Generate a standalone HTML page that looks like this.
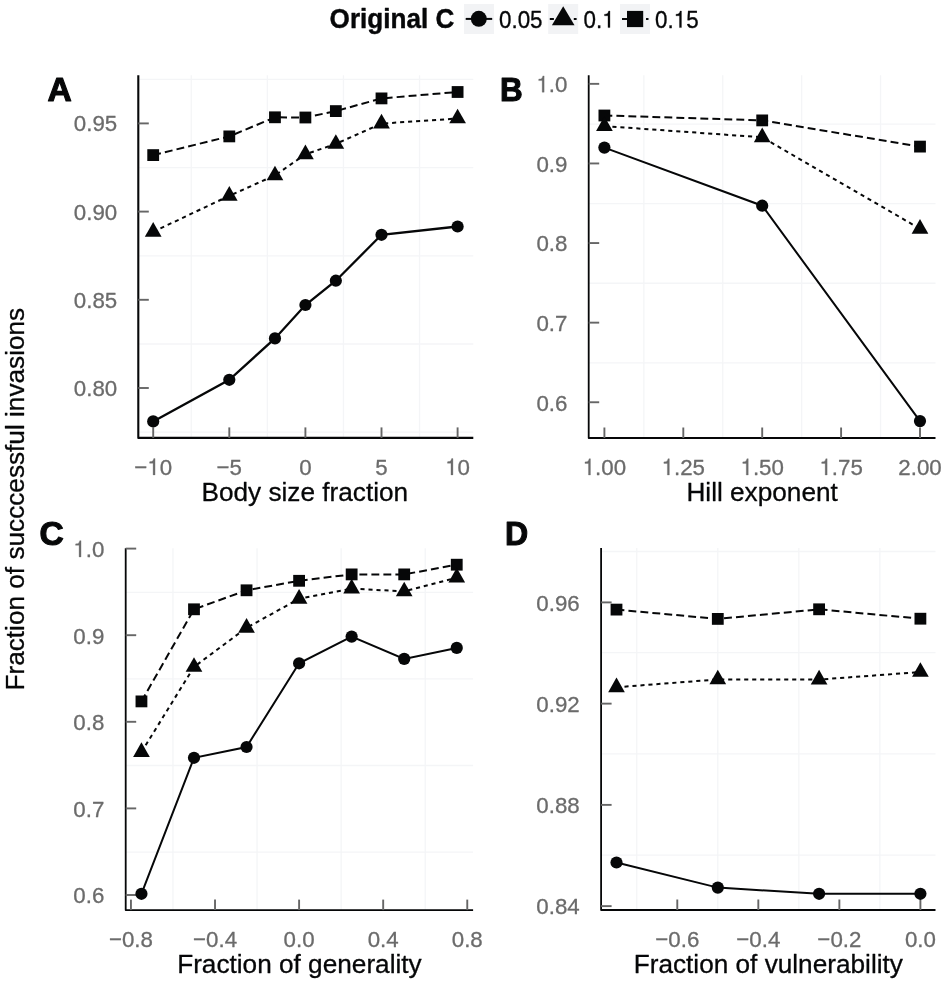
<!DOCTYPE html>
<html><head><meta charset="utf-8"><title>Figure</title>
<style>
html,body{margin:0;padding:0;background:#fff;}
body{width:945px;height:983px;overflow:hidden;font-family:"Liberation Sans", sans-serif;}
#wrap{width:945px;height:983px;will-change:transform;}
svg{display:block;font-family:"Liberation Sans", sans-serif;}
</style></head><body>
<div id="wrap">
<svg width="945" height="983" viewBox="0 0 945 983">
<g id="panel-A">
<line x1="138.3" x2="473.3" y1="79.40" y2="79.40" stroke="#f4f5f7" stroke-width="1.3"/>
<line x1="138.3" x2="473.3" y1="167.60" y2="167.60" stroke="#f4f5f7" stroke-width="1.3"/>
<line x1="138.3" x2="473.3" y1="255.80" y2="255.80" stroke="#f4f5f7" stroke-width="1.3"/>
<line x1="138.3" x2="473.3" y1="344.00" y2="344.00" stroke="#f4f5f7" stroke-width="1.3"/>
<line x1="138.3" x2="473.3" y1="432.20" y2="432.20" stroke="#f4f5f7" stroke-width="1.3"/>
<line x1="191.25" x2="191.25" y1="75.3" y2="437.9" stroke="#f4f5f7" stroke-width="1.3"/>
<line x1="267.35" x2="267.35" y1="75.3" y2="437.9" stroke="#f4f5f7" stroke-width="1.3"/>
<line x1="343.45" x2="343.45" y1="75.3" y2="437.9" stroke="#f4f5f7" stroke-width="1.3"/>
<line x1="419.55" x2="419.55" y1="75.3" y2="437.9" stroke="#f4f5f7" stroke-width="1.3"/>
<polyline points="138.3,75.3 138.3,437.9 473.3,437.9" fill="none" stroke="#060708" stroke-width="2.1" stroke-linejoin="round"/>
<line x1="138.3" x2="148.8" y1="123.40" y2="123.40" stroke="#666666" stroke-width="1.9"/>
<text transform="translate(117.20,131.30) scale(1.0,1.03)" text-anchor="end" font-size="22.3" fill="#6b6b6b" stroke="#6b6b6b" stroke-width="0.3" stroke-linejoin="round">0.95</text>
<line x1="138.3" x2="148.8" y1="211.60" y2="211.60" stroke="#666666" stroke-width="1.9"/>
<text transform="translate(117.20,219.50) scale(1.0,1.03)" text-anchor="end" font-size="22.3" fill="#6b6b6b" stroke="#6b6b6b" stroke-width="0.3" stroke-linejoin="round">0.90</text>
<line x1="138.3" x2="148.8" y1="299.80" y2="299.80" stroke="#666666" stroke-width="1.9"/>
<text transform="translate(117.20,307.70) scale(1.0,1.03)" text-anchor="end" font-size="22.3" fill="#6b6b6b" stroke="#6b6b6b" stroke-width="0.3" stroke-linejoin="round">0.85</text>
<line x1="138.3" x2="148.8" y1="388.00" y2="388.00" stroke="#666666" stroke-width="1.9"/>
<text transform="translate(117.20,395.90) scale(1.0,1.03)" text-anchor="end" font-size="22.3" fill="#6b6b6b" stroke="#6b6b6b" stroke-width="0.3" stroke-linejoin="round">0.80</text>
<line x1="153.20" x2="153.20" y1="437.9" y2="427.4" stroke="#666666" stroke-width="1.9"/>
<g transform="translate(153.20,474.90) scale(1.0,1.03)" fill="#6b6b6b" stroke="#6b6b6b" stroke-width="0.3" stroke-linejoin="round">
<text x="-18.91 6.51" y="0" font-size="22.3">−0</text>
<path transform="translate(-5.89,0) scale(0.02230,-0.02230)" d="M259,505 L259,0 L347,0 L347,709 L289,709 C258,600 238,585 102,568 L102,505 Z" vector-effect="non-scaling-stroke"/>
</g>
<line x1="229.30" x2="229.30" y1="437.9" y2="427.4" stroke="#666666" stroke-width="1.9"/>
<text transform="translate(229.30,474.90) scale(1.0,1.03)" text-anchor="middle" font-size="22.3" fill="#6b6b6b" stroke="#6b6b6b" stroke-width="0.3" stroke-linejoin="round">−5</text>
<line x1="305.40" x2="305.40" y1="437.9" y2="427.4" stroke="#666666" stroke-width="1.9"/>
<text transform="translate(305.40,474.90) scale(1.0,1.03)" text-anchor="middle" font-size="22.3" fill="#6b6b6b" stroke="#6b6b6b" stroke-width="0.3" stroke-linejoin="round">0</text>
<line x1="381.50" x2="381.50" y1="437.9" y2="427.4" stroke="#666666" stroke-width="1.9"/>
<text transform="translate(381.50,474.90) scale(1.0,1.03)" text-anchor="middle" font-size="22.3" fill="#6b6b6b" stroke="#6b6b6b" stroke-width="0.3" stroke-linejoin="round">5</text>
<line x1="457.60" x2="457.60" y1="437.9" y2="427.4" stroke="#666666" stroke-width="1.9"/>
<g transform="translate(457.60,474.90) scale(1.0,1.03)" fill="#6b6b6b" stroke="#6b6b6b" stroke-width="0.3" stroke-linejoin="round">
<text x="0.00" y="0" font-size="22.3">0</text>
<path transform="translate(-12.40,0) scale(0.02230,-0.02230)" d="M259,505 L259,0 L347,0 L347,709 L289,709 C258,600 238,585 102,568 L102,505 Z" vector-effect="non-scaling-stroke"/>
</g>
<text transform="translate(304.80,500.85)" text-anchor="middle" font-size="26.2" fill="#060708" stroke="#060708" stroke-width="0.3" stroke-linejoin="round">Body size fraction</text>
<text transform="translate(47.60,101.10) scale(0.9999999999999999,1.0)" font-size="33.6" font-weight="bold" fill="#060708" stroke="#060708" stroke-width="1.1" stroke-linejoin="round">A</text>
<polyline points="153.20,421.40 229.30,379.80 274.96,338.40 305.40,305.00 335.84,280.70 381.50,234.80 457.60,226.50" fill="none" stroke="#060708" stroke-width="2.3"/>
<polyline points="153.20,231.80 229.30,195.80 274.96,175.40 305.40,154.30 335.84,143.90 381.50,123.60 457.60,118.50" fill="none" stroke="#060708" stroke-width="2.0" stroke-dasharray="4.1 3.9"/>
<polyline points="153.20,155.10 229.30,136.40 274.96,117.30 305.40,117.50 335.84,111.10 381.50,98.40 457.60,92.00" fill="none" stroke="#060708" stroke-width="2.0" stroke-dasharray="7.9 4.1"/>
<circle cx="153.20" cy="421.40" r="6.10" fill="#060708"/>
<circle cx="229.30" cy="379.80" r="6.10" fill="#060708"/>
<circle cx="274.96" cy="338.40" r="6.10" fill="#060708"/>
<circle cx="305.40" cy="305.00" r="6.10" fill="#060708"/>
<circle cx="335.84" cy="280.70" r="6.10" fill="#060708"/>
<circle cx="381.50" cy="234.80" r="6.10" fill="#060708"/>
<circle cx="457.60" cy="226.50" r="6.10" fill="#060708"/>
<rect x="147.30" y="149.20" width="11.8" height="11.8" fill="#060708"/>
<rect x="223.40" y="130.50" width="11.8" height="11.8" fill="#060708"/>
<rect x="269.06" y="111.40" width="11.8" height="11.8" fill="#060708"/>
<rect x="299.50" y="111.60" width="11.8" height="11.8" fill="#060708"/>
<rect x="329.94" y="105.20" width="11.8" height="11.8" fill="#060708"/>
<rect x="375.60" y="92.50" width="11.8" height="11.8" fill="#060708"/>
<rect x="451.70" y="86.10" width="11.8" height="11.8" fill="#060708"/>
<polygon points="153.20,222.07 144.85,236.67 161.55,236.67" fill="#060708"/>
<polygon points="229.30,186.07 220.95,200.67 237.65,200.67" fill="#060708"/>
<polygon points="274.96,165.67 266.61,180.27 283.31,180.27" fill="#060708"/>
<polygon points="305.40,144.57 297.05,159.17 313.75,159.17" fill="#060708"/>
<polygon points="335.84,134.17 327.49,148.77 344.19,148.77" fill="#060708"/>
<polygon points="381.50,113.87 373.15,128.47 389.85,128.47" fill="#060708"/>
<polygon points="457.60,108.77 449.25,123.37 465.95,123.37" fill="#060708"/>
</g>
<g id="panel-B">
<line x1="588.7" x2="935.5" y1="124.05" y2="124.05" stroke="#f4f5f7" stroke-width="1.3"/>
<line x1="588.7" x2="935.5" y1="203.65" y2="203.65" stroke="#f4f5f7" stroke-width="1.3"/>
<line x1="588.7" x2="935.5" y1="283.25" y2="283.25" stroke="#f4f5f7" stroke-width="1.3"/>
<line x1="588.7" x2="935.5" y1="362.85" y2="362.85" stroke="#f4f5f7" stroke-width="1.3"/>
<line x1="643.85" x2="643.85" y1="75.3" y2="438.0" stroke="#f4f5f7" stroke-width="1.3"/>
<line x1="722.75" x2="722.75" y1="75.3" y2="438.0" stroke="#f4f5f7" stroke-width="1.3"/>
<line x1="801.65" x2="801.65" y1="75.3" y2="438.0" stroke="#f4f5f7" stroke-width="1.3"/>
<line x1="880.55" x2="880.55" y1="75.3" y2="438.0" stroke="#f4f5f7" stroke-width="1.3"/>
<polyline points="588.7,75.3 588.7,438.0 935.5,438.0" fill="none" stroke="#060708" stroke-width="1.8" stroke-linejoin="round"/>
<line x1="588.7" x2="599.2" y1="83.85" y2="83.85" stroke="#666666" stroke-width="1.9"/>
<g transform="translate(567.40,92.20) scale(1.0,1.03)" fill="#6b6b6b" stroke="#6b6b6b" stroke-width="0.3" stroke-linejoin="round">
<text x="-18.60 -12.40" y="0" font-size="22.3">.0</text>
<path transform="translate(-31.00,0) scale(0.02230,-0.02230)" d="M259,505 L259,0 L347,0 L347,709 L289,709 C258,600 238,585 102,568 L102,505 Z" vector-effect="non-scaling-stroke"/>
</g>
<line x1="588.7" x2="599.2" y1="163.45" y2="163.45" stroke="#666666" stroke-width="1.9"/>
<text transform="translate(567.40,171.80) scale(1.0,1.03)" text-anchor="end" font-size="22.3" fill="#6b6b6b" stroke="#6b6b6b" stroke-width="0.3" stroke-linejoin="round">0.9</text>
<line x1="588.7" x2="599.2" y1="243.05" y2="243.05" stroke="#666666" stroke-width="1.9"/>
<text transform="translate(567.40,251.40) scale(1.0,1.03)" text-anchor="end" font-size="22.3" fill="#6b6b6b" stroke="#6b6b6b" stroke-width="0.3" stroke-linejoin="round">0.8</text>
<line x1="588.7" x2="599.2" y1="322.65" y2="322.65" stroke="#666666" stroke-width="1.9"/>
<text transform="translate(567.40,331.00) scale(1.0,1.03)" text-anchor="end" font-size="22.3" fill="#6b6b6b" stroke="#6b6b6b" stroke-width="0.3" stroke-linejoin="round">0.7</text>
<line x1="588.7" x2="599.2" y1="402.25" y2="402.25" stroke="#666666" stroke-width="1.9"/>
<text transform="translate(567.40,410.60) scale(1.0,1.03)" text-anchor="end" font-size="22.3" fill="#6b6b6b" stroke="#6b6b6b" stroke-width="0.3" stroke-linejoin="round">0.6</text>
<line x1="604.40" x2="604.40" y1="438.0" y2="427.5" stroke="#666666" stroke-width="1.9"/>
<g transform="translate(604.40,475.00) scale(1.0,1.03)" fill="#6b6b6b" stroke="#6b6b6b" stroke-width="0.3" stroke-linejoin="round">
<text x="-9.30 -3.10 9.30" y="0" font-size="22.3">.00</text>
<path transform="translate(-21.70,0) scale(0.02230,-0.02230)" d="M259,505 L259,0 L347,0 L347,709 L289,709 C258,600 238,585 102,568 L102,505 Z" vector-effect="non-scaling-stroke"/>
</g>
<line x1="683.30" x2="683.30" y1="438.0" y2="427.5" stroke="#666666" stroke-width="1.9"/>
<g transform="translate(683.30,475.00) scale(1.0,1.03)" fill="#6b6b6b" stroke="#6b6b6b" stroke-width="0.3" stroke-linejoin="round">
<text x="-9.30 -3.10 9.30" y="0" font-size="22.3">.25</text>
<path transform="translate(-21.70,0) scale(0.02230,-0.02230)" d="M259,505 L259,0 L347,0 L347,709 L289,709 C258,600 238,585 102,568 L102,505 Z" vector-effect="non-scaling-stroke"/>
</g>
<line x1="762.20" x2="762.20" y1="438.0" y2="427.5" stroke="#666666" stroke-width="1.9"/>
<g transform="translate(762.20,475.00) scale(1.0,1.03)" fill="#6b6b6b" stroke="#6b6b6b" stroke-width="0.3" stroke-linejoin="round">
<text x="-9.30 -3.10 9.30" y="0" font-size="22.3">.50</text>
<path transform="translate(-21.70,0) scale(0.02230,-0.02230)" d="M259,505 L259,0 L347,0 L347,709 L289,709 C258,600 238,585 102,568 L102,505 Z" vector-effect="non-scaling-stroke"/>
</g>
<line x1="841.10" x2="841.10" y1="438.0" y2="427.5" stroke="#666666" stroke-width="1.9"/>
<g transform="translate(841.10,475.00) scale(1.0,1.03)" fill="#6b6b6b" stroke="#6b6b6b" stroke-width="0.3" stroke-linejoin="round">
<text x="-9.30 -3.10 9.30" y="0" font-size="22.3">.75</text>
<path transform="translate(-21.70,0) scale(0.02230,-0.02230)" d="M259,505 L259,0 L347,0 L347,709 L289,709 C258,600 238,585 102,568 L102,505 Z" vector-effect="non-scaling-stroke"/>
</g>
<line x1="920.00" x2="920.00" y1="438.0" y2="427.5" stroke="#666666" stroke-width="1.9"/>
<text transform="translate(920.00,475.00) scale(1.0,1.03)" text-anchor="middle" font-size="22.3" fill="#6b6b6b" stroke="#6b6b6b" stroke-width="0.3" stroke-linejoin="round">2.00</text>
<text transform="translate(762.10,500.95)" text-anchor="middle" font-size="26.2" fill="#060708" stroke="#060708" stroke-width="0.3" stroke-linejoin="round">Hill exponent</text>
<text transform="translate(499.90,101.40) scale(0.9349999999999999,1.0)" font-size="33.6" font-weight="bold" fill="#060708" stroke="#060708" stroke-width="1.1" stroke-linejoin="round">B</text>
<polyline points="604.40,147.60 762.20,205.70 920.00,421.10" fill="none" stroke="#060708" stroke-width="2.0"/>
<polyline points="604.40,126.10 762.20,137.30 920.00,228.80" fill="none" stroke="#060708" stroke-width="2.0" stroke-dasharray="4.1 3.9"/>
<polyline points="604.40,115.50 762.20,120.40 920.00,146.60" fill="none" stroke="#060708" stroke-width="2.0" stroke-dasharray="7.9 4.1"/>
<circle cx="604.40" cy="147.60" r="6.10" fill="#060708"/>
<circle cx="762.20" cy="205.70" r="6.10" fill="#060708"/>
<circle cx="920.00" cy="421.10" r="6.10" fill="#060708"/>
<rect x="598.50" y="109.60" width="11.8" height="11.8" fill="#060708"/>
<rect x="756.30" y="114.50" width="11.8" height="11.8" fill="#060708"/>
<rect x="914.10" y="140.70" width="11.8" height="11.8" fill="#060708"/>
<polygon points="604.40,116.37 596.05,130.97 612.75,130.97" fill="#060708"/>
<polygon points="762.20,127.57 753.85,142.17 770.55,142.17" fill="#060708"/>
<polygon points="920.00,219.07 911.65,233.67 928.35,233.67" fill="#060708"/>
</g>
<g id="panel-C">
<line x1="125.7" x2="473.1" y1="592.30" y2="592.30" stroke="#f4f5f7" stroke-width="1.3"/>
<line x1="125.7" x2="473.1" y1="678.90" y2="678.90" stroke="#f4f5f7" stroke-width="1.3"/>
<line x1="125.7" x2="473.1" y1="765.50" y2="765.50" stroke="#f4f5f7" stroke-width="1.3"/>
<line x1="125.7" x2="473.1" y1="852.10" y2="852.10" stroke="#f4f5f7" stroke-width="1.3"/>
<line x1="172.98" x2="172.98" y1="548.3" y2="910.1" stroke="#f4f5f7" stroke-width="1.3"/>
<line x1="257.06" x2="257.06" y1="548.3" y2="910.1" stroke="#f4f5f7" stroke-width="1.3"/>
<line x1="341.14" x2="341.14" y1="548.3" y2="910.1" stroke="#f4f5f7" stroke-width="1.3"/>
<line x1="425.22" x2="425.22" y1="548.3" y2="910.1" stroke="#f4f5f7" stroke-width="1.3"/>
<polyline points="125.7,548.3 125.7,910.1 473.1,910.1" fill="none" stroke="#060708" stroke-width="1.8" stroke-linejoin="round"/>
<line x1="125.7" x2="136.2" y1="548.60" y2="548.60" stroke="#666666" stroke-width="1.9"/>
<g transform="translate(104.30,556.95) scale(1.0,1.03)" fill="#6b6b6b" stroke="#6b6b6b" stroke-width="0.3" stroke-linejoin="round">
<text x="-18.60 -12.40" y="0" font-size="22.3">.0</text>
<path transform="translate(-31.00,0) scale(0.02230,-0.02230)" d="M259,505 L259,0 L347,0 L347,709 L289,709 C258,600 238,585 102,568 L102,505 Z" vector-effect="non-scaling-stroke"/>
</g>
<line x1="125.7" x2="136.2" y1="635.20" y2="635.20" stroke="#666666" stroke-width="1.9"/>
<text transform="translate(104.30,643.55) scale(1.0,1.03)" text-anchor="end" font-size="22.3" fill="#6b6b6b" stroke="#6b6b6b" stroke-width="0.3" stroke-linejoin="round">0.9</text>
<line x1="125.7" x2="136.2" y1="721.80" y2="721.80" stroke="#666666" stroke-width="1.9"/>
<text transform="translate(104.30,730.15) scale(1.0,1.03)" text-anchor="end" font-size="22.3" fill="#6b6b6b" stroke="#6b6b6b" stroke-width="0.3" stroke-linejoin="round">0.8</text>
<line x1="125.7" x2="136.2" y1="808.40" y2="808.40" stroke="#666666" stroke-width="1.9"/>
<text transform="translate(104.30,816.75) scale(1.0,1.03)" text-anchor="end" font-size="22.3" fill="#6b6b6b" stroke="#6b6b6b" stroke-width="0.3" stroke-linejoin="round">0.7</text>
<line x1="125.7" x2="136.2" y1="895.00" y2="895.00" stroke="#666666" stroke-width="1.9"/>
<text transform="translate(104.30,903.35) scale(1.0,1.03)" text-anchor="end" font-size="22.3" fill="#6b6b6b" stroke="#6b6b6b" stroke-width="0.3" stroke-linejoin="round">0.6</text>
<line x1="130.94" x2="130.94" y1="910.1" y2="899.6" stroke="#666666" stroke-width="1.9"/>
<text transform="translate(130.94,947.10) scale(1.0,1.03)" text-anchor="middle" font-size="22.3" fill="#6b6b6b" stroke="#6b6b6b" stroke-width="0.3" stroke-linejoin="round">−0.8</text>
<line x1="215.02" x2="215.02" y1="910.1" y2="899.6" stroke="#666666" stroke-width="1.9"/>
<text transform="translate(215.02,947.10) scale(1.0,1.03)" text-anchor="middle" font-size="22.3" fill="#6b6b6b" stroke="#6b6b6b" stroke-width="0.3" stroke-linejoin="round">−0.4</text>
<line x1="299.10" x2="299.10" y1="910.1" y2="899.6" stroke="#666666" stroke-width="1.9"/>
<text transform="translate(299.10,947.10) scale(1.0,1.03)" text-anchor="middle" font-size="22.3" fill="#6b6b6b" stroke="#6b6b6b" stroke-width="0.3" stroke-linejoin="round">0.0</text>
<line x1="383.18" x2="383.18" y1="910.1" y2="899.6" stroke="#666666" stroke-width="1.9"/>
<text transform="translate(383.18,947.10) scale(1.0,1.03)" text-anchor="middle" font-size="22.3" fill="#6b6b6b" stroke="#6b6b6b" stroke-width="0.3" stroke-linejoin="round">0.4</text>
<line x1="467.26" x2="467.26" y1="910.1" y2="899.6" stroke="#666666" stroke-width="1.9"/>
<text transform="translate(467.26,947.10) scale(1.0,1.03)" text-anchor="middle" font-size="22.3" fill="#6b6b6b" stroke="#6b6b6b" stroke-width="0.3" stroke-linejoin="round">0.8</text>
<text transform="translate(299.40,973.05)" text-anchor="middle" font-size="26.2" fill="#060708" stroke="#060708" stroke-width="0.3" stroke-linejoin="round">Fraction of generality</text>
<text transform="translate(39.50,545.10) scale(0.9999999999999999,1.0)" font-size="33.6" font-weight="bold" fill="#060708" stroke="#060708" stroke-width="1.1" stroke-linejoin="round">C</text>
<polyline points="141.45,893.80 194.00,757.80 246.55,747.00 299.10,663.30 351.65,636.60 404.20,658.90 456.75,647.90" fill="none" stroke="#060708" stroke-width="2.0"/>
<polyline points="141.45,752.10 194.00,666.90 246.55,627.80 299.10,598.80 351.65,588.60 404.20,591.40 456.75,577.60" fill="none" stroke="#060708" stroke-width="2.0" stroke-dasharray="4.1 3.9"/>
<polyline points="141.45,701.40 194.00,609.30 246.55,590.30 299.10,580.80 351.65,574.40 404.20,574.40 456.75,564.70" fill="none" stroke="#060708" stroke-width="2.0" stroke-dasharray="7.9 4.1"/>
<circle cx="141.45" cy="893.80" r="6.10" fill="#060708"/>
<circle cx="194.00" cy="757.80" r="6.10" fill="#060708"/>
<circle cx="246.55" cy="747.00" r="6.10" fill="#060708"/>
<circle cx="299.10" cy="663.30" r="6.10" fill="#060708"/>
<circle cx="351.65" cy="636.60" r="6.10" fill="#060708"/>
<circle cx="404.20" cy="658.90" r="6.10" fill="#060708"/>
<circle cx="456.75" cy="647.90" r="6.10" fill="#060708"/>
<rect x="135.55" y="695.50" width="11.8" height="11.8" fill="#060708"/>
<rect x="188.10" y="603.40" width="11.8" height="11.8" fill="#060708"/>
<rect x="240.65" y="584.40" width="11.8" height="11.8" fill="#060708"/>
<rect x="293.20" y="574.90" width="11.8" height="11.8" fill="#060708"/>
<rect x="345.75" y="568.50" width="11.8" height="11.8" fill="#060708"/>
<rect x="398.30" y="568.50" width="11.8" height="11.8" fill="#060708"/>
<rect x="450.85" y="558.80" width="11.8" height="11.8" fill="#060708"/>
<polygon points="141.45,742.37 133.10,756.97 149.80,756.97" fill="#060708"/>
<polygon points="194.00,657.17 185.65,671.77 202.35,671.77" fill="#060708"/>
<polygon points="246.55,618.07 238.20,632.67 254.90,632.67" fill="#060708"/>
<polygon points="299.10,589.07 290.75,603.67 307.45,603.67" fill="#060708"/>
<polygon points="351.65,578.87 343.30,593.47 360.00,593.47" fill="#060708"/>
<polygon points="404.20,581.67 395.85,596.27 412.55,596.27" fill="#060708"/>
<polygon points="456.75,567.87 448.40,582.47 465.10,582.47" fill="#060708"/>
</g>
<g id="panel-D">
<line x1="601.1" x2="935.5" y1="551.48" y2="551.48" stroke="#f4f5f7" stroke-width="1.3"/>
<line x1="601.1" x2="935.5" y1="652.72" y2="652.72" stroke="#f4f5f7" stroke-width="1.3"/>
<line x1="601.1" x2="935.5" y1="753.96" y2="753.96" stroke="#f4f5f7" stroke-width="1.3"/>
<line x1="601.1" x2="935.5" y1="855.20" y2="855.20" stroke="#f4f5f7" stroke-width="1.3"/>
<line x1="636.76" x2="636.76" y1="548.1" y2="910.0" stroke="#f4f5f7" stroke-width="1.3"/>
<line x1="717.80" x2="717.80" y1="548.1" y2="910.0" stroke="#f4f5f7" stroke-width="1.3"/>
<line x1="798.84" x2="798.84" y1="548.1" y2="910.0" stroke="#f4f5f7" stroke-width="1.3"/>
<line x1="879.88" x2="879.88" y1="548.1" y2="910.0" stroke="#f4f5f7" stroke-width="1.3"/>
<polyline points="601.1,548.1 601.1,910.0 935.5,910.0" fill="none" stroke="#060708" stroke-width="1.8" stroke-linejoin="round"/>
<line x1="601.1" x2="611.6" y1="602.40" y2="602.40" stroke="#666666" stroke-width="1.9"/>
<text transform="translate(579.70,610.75) scale(1.0,1.03)" text-anchor="end" font-size="22.3" fill="#6b6b6b" stroke="#6b6b6b" stroke-width="0.3" stroke-linejoin="round">0.96</text>
<line x1="601.1" x2="611.6" y1="703.64" y2="703.64" stroke="#666666" stroke-width="1.9"/>
<text transform="translate(579.70,711.99) scale(1.0,1.03)" text-anchor="end" font-size="22.3" fill="#6b6b6b" stroke="#6b6b6b" stroke-width="0.3" stroke-linejoin="round">0.92</text>
<line x1="601.1" x2="611.6" y1="804.88" y2="804.88" stroke="#666666" stroke-width="1.9"/>
<text transform="translate(579.70,813.23) scale(1.0,1.03)" text-anchor="end" font-size="22.3" fill="#6b6b6b" stroke="#6b6b6b" stroke-width="0.3" stroke-linejoin="round">0.88</text>
<line x1="601.1" x2="611.6" y1="906.12" y2="906.12" stroke="#666666" stroke-width="1.9"/>
<text transform="translate(579.70,914.47) scale(1.0,1.03)" text-anchor="end" font-size="22.3" fill="#6b6b6b" stroke="#6b6b6b" stroke-width="0.3" stroke-linejoin="round">0.84</text>
<line x1="677.28" x2="677.28" y1="910.0" y2="899.5" stroke="#666666" stroke-width="1.9"/>
<text transform="translate(677.28,947.00) scale(1.0,1.03)" text-anchor="middle" font-size="22.3" fill="#6b6b6b" stroke="#6b6b6b" stroke-width="0.3" stroke-linejoin="round">−0.6</text>
<line x1="758.32" x2="758.32" y1="910.0" y2="899.5" stroke="#666666" stroke-width="1.9"/>
<text transform="translate(758.32,947.00) scale(1.0,1.03)" text-anchor="middle" font-size="22.3" fill="#6b6b6b" stroke="#6b6b6b" stroke-width="0.3" stroke-linejoin="round">−0.4</text>
<line x1="839.36" x2="839.36" y1="910.0" y2="899.5" stroke="#666666" stroke-width="1.9"/>
<text transform="translate(839.36,947.00) scale(1.0,1.03)" text-anchor="middle" font-size="22.3" fill="#6b6b6b" stroke="#6b6b6b" stroke-width="0.3" stroke-linejoin="round">−0.2</text>
<line x1="920.40" x2="920.40" y1="910.0" y2="899.5" stroke="#666666" stroke-width="1.9"/>
<text transform="translate(920.40,947.00) scale(1.0,1.03)" text-anchor="middle" font-size="22.3" fill="#6b6b6b" stroke="#6b6b6b" stroke-width="0.3" stroke-linejoin="round">0.0</text>
<text transform="translate(768.30,972.95)" text-anchor="middle" font-size="26.2" fill="#060708" stroke="#060708" stroke-width="0.3" stroke-linejoin="round">Fraction of vulnerability</text>
<text transform="translate(505.10,544.80) scale(0.955,1.0)" font-size="33.6" font-weight="bold" fill="#060708" stroke="#060708" stroke-width="1.1" stroke-linejoin="round">D</text>
<polyline points="616.50,862.50 717.80,887.60 819.10,893.80 920.40,893.80" fill="none" stroke="#060708" stroke-width="2.0"/>
<polyline points="616.50,687.30 717.80,679.40 819.10,679.60 920.40,672.00" fill="none" stroke="#060708" stroke-width="2.0" stroke-dasharray="4.1 3.9"/>
<polyline points="616.50,609.60 717.80,618.90 819.10,609.30 920.40,618.70" fill="none" stroke="#060708" stroke-width="2.0" stroke-dasharray="7.9 4.1"/>
<circle cx="616.50" cy="862.50" r="6.10" fill="#060708"/>
<circle cx="717.80" cy="887.60" r="6.10" fill="#060708"/>
<circle cx="819.10" cy="893.80" r="6.10" fill="#060708"/>
<circle cx="920.40" cy="893.80" r="6.10" fill="#060708"/>
<rect x="610.60" y="603.70" width="11.8" height="11.8" fill="#060708"/>
<rect x="711.90" y="613.00" width="11.8" height="11.8" fill="#060708"/>
<rect x="813.20" y="603.40" width="11.8" height="11.8" fill="#060708"/>
<rect x="914.50" y="612.80" width="11.8" height="11.8" fill="#060708"/>
<polygon points="616.50,677.57 608.15,692.17 624.85,692.17" fill="#060708"/>
<polygon points="717.80,669.67 709.45,684.27 726.15,684.27" fill="#060708"/>
<polygon points="819.10,669.87 810.75,684.47 827.45,684.47" fill="#060708"/>
<polygon points="920.40,662.27 912.05,676.87 928.75,676.87" fill="#060708"/>
</g>
<text transform="translate(23.50,499.20) rotate(-90)" text-anchor="middle" font-size="26.2" fill="#060708" stroke="#060708" stroke-width="0.3" stroke-linejoin="round">Fraction of succcessful invasions</text>
<g id="legend">
<text transform="translate(329.60,28.35) scale(1.004,1.035)" font-size="26" font-weight="bold" fill="#060708" stroke="#060708" stroke-width="0.4" stroke-linejoin="round">Original C</text>
<rect x="464" y="4" width="30" height="30" fill="#f2f3f5"/>
<rect x="548.2" y="4" width="30" height="30" fill="#f2f3f5"/>
<rect x="620" y="4" width="30" height="30" fill="#f2f3f5"/>
<line x1="465.7" x2="492.2" y1="18.9" y2="18.9" stroke="#060708" stroke-width="2"/>
<circle cx="478.80" cy="18.80" r="8.00" fill="#060708"/>
<line x1="549.8" x2="576.6" y1="18.9" y2="18.9" stroke="#060708" stroke-width="2" stroke-dasharray="4.1 3.9"/>
<polygon points="563.2,6.3 551.9,25.3 574.5,25.3" fill="#060708"/>
<line x1="622" x2="648.5" y1="18.9" y2="18.9" stroke="#060708" stroke-width="2" stroke-dasharray="8.2 3.8"/>
<rect x="627.00" y="10.90" width="16.2" height="16.2" fill="#060708"/>
<text transform="translate(499.00,27.60) scale(1.0,1.045)" font-size="22.4" fill="#060708" stroke="#060708" stroke-width="0.3" stroke-linejoin="round">0.05</text>
<g transform="translate(583.50,27.60) scale(1.0,1.045)" fill="#060708" stroke="#060708" stroke-width="0.3" stroke-linejoin="round">
<text x="0.00 12.46" y="0" font-size="22.4">0.</text>
<path transform="translate(18.68,0) scale(0.02240,-0.02240)" d="M259,505 L259,0 L347,0 L347,709 L289,709 C258,600 238,585 102,568 L102,505 Z" vector-effect="non-scaling-stroke"/>
</g>
<g transform="translate(655.00,27.60) scale(1.0,1.045)" fill="#060708" stroke="#060708" stroke-width="0.3" stroke-linejoin="round">
<text x="0.00 12.46 31.14" y="0" font-size="22.4">0.5</text>
<path transform="translate(18.68,0) scale(0.02240,-0.02240)" d="M259,505 L259,0 L347,0 L347,709 L289,709 C258,600 238,585 102,568 L102,505 Z" vector-effect="non-scaling-stroke"/>
</g>
</g>
</svg>
</div>
</body></html>
